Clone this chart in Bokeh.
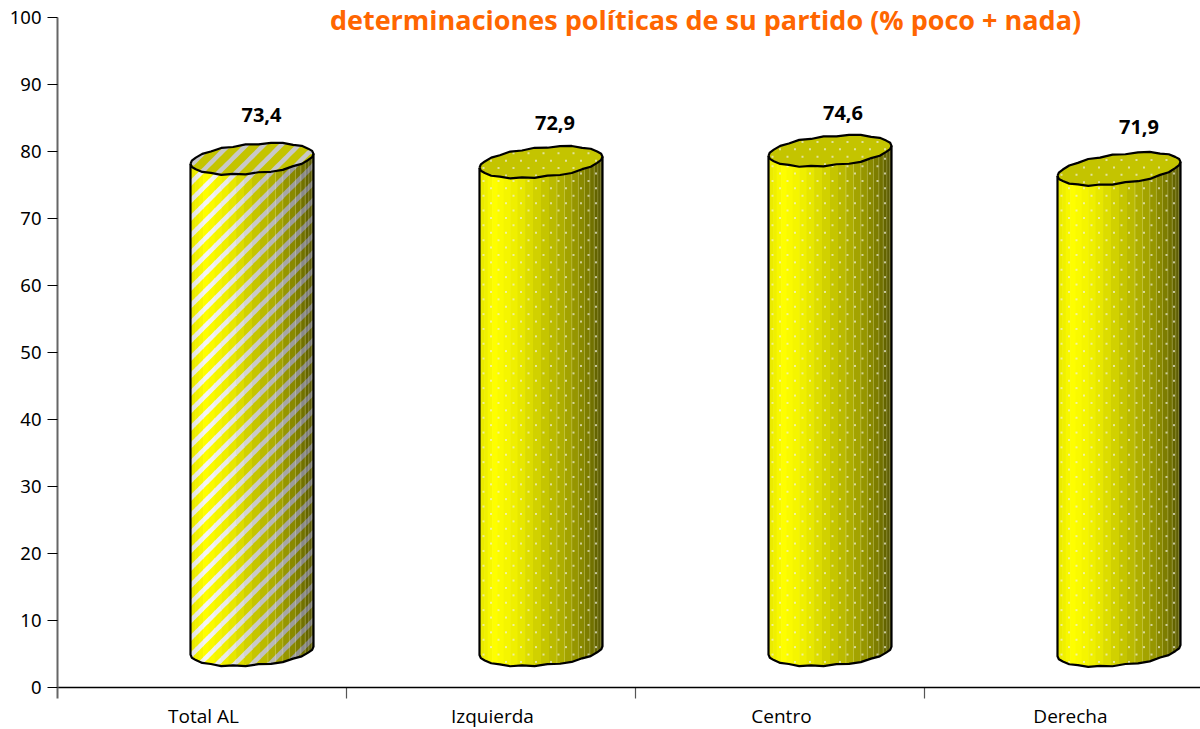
import numpy as np
from bokeh.embed import file_html
from bokeh.resources import INLINE
from bokeh.plotting import figure
from bokeh.models import FixedTicker, Label, Range1d
from bokeh.core.properties import value

# ---- data
categories = ["Total AL", "Izquierda", "Centro", "Derecha"]
values = [73.4, 72.9, 74.6, 71.9]
value_labels = ["73,4", "72,9", "74,6", "71,9"]
y_ticks = list(range(0, 101, 10))
title_text = "determinaciones políticas de su partido (% poco + nada)"

# ---- styling / layout
PX_X, PX_Y = 289.0, 6.7          # pixels per data unit
DEPTH = 5.5                      # 3-D depth offset of the cylinders, in y units
CYL_SHIFT = 0.673                # cylinder centre inside a category slot
HALF_W, RY = 61.5, 14.7          # pixels
TOP_PAD, BOTTOM_PAD = 17, 42     # pixels of frame above 100 and below 0
TICK_LEN = 11
tilt = [5.0, 5.5, 5.0, 7.0]
label_dx = [9.5, 14, 13, 20]
label_dy = [12.0, 11.3, 11.2, 11.7]
wobble = [0, .6, -.5, .7, -.3, .8, -.6, .4, -.7, .5, .9, -.4, .6, -.8, .3, 0]
shade_pos = [0, .12, .3, .5, .75, .9, 1]
shade_val = [230, 255, 238, 204, 158, 119, 79]
N_STRIPS = 24
STRIPE_PERIOD, STRIPE_W = 17.5, 6.5
DOT_DX, DOT_DY = 15.0, 7.4


def hexc(r, g, b):
    return "#%02x%02x%02x" % (int(r), int(g), int(b))


def arc(cx, cy, tlt, sign):
    """sign=-1 lower arc, sign=+1 upper arc, left to right, y up (pixels)."""
    t = np.linspace(np.pi, 0, len(wobble))
    xs = cx + HALF_W * np.cos(t)
    ys = cy + sign * RY * np.sin(t) + tlt * np.cos(t) + sign * np.array(wobble) * np.sin(t)
    return xs, ys


p = figure(width=1200, height=729, output_backend="svg", toolbar_location=None,
           x_range=Range1d(0, 1143 / PX_X),
           y_range=Range1d(-BOTTOM_PAD / PX_Y, 100 + TOP_PAD / PX_Y),
           min_border_left=57, min_border_right=0, min_border_top=0, min_border_bottom=0)
p.grid.visible = False
p.outline_line_color = None
p.background_fill_color = "white"

wall_xs, wall_ys, wall_c = [], [], []
stripe_xs, stripe_ys, stripe_c = [], [], []
dot_x, dot_y = [], []
seam_xs, seam_ys = [], []
top_xs, top_ys = [], []
top_stripe_xs, top_stripe_ys = [], []
line_xs, line_ys = [], []

for i, v in enumerate(values):
    cx = (i + CYL_SHIFT) * PX_X
    cy_top = (v + DEPTH) * PX_Y
    cy_bot = DEPTH * PX_Y
    tl = tilt[i]
    bx, by = arc(cx, cy_bot, tl * .8, -1)
    tx_lo, ty_lo = arc(cx, cy_top, tl, -1)
    tx_up, ty_up = arc(cx, cy_top, tl, 1)
    bottom = lambda x: np.interp(x, bx, by)
    wall_top = lambda x: np.interp(x, tx_lo, ty_lo) + 2
    edges = cx - HALF_W * np.cos(np.linspace(0, np.pi, N_STRIPS + 1))
    for k in range(N_STRIPS):
        x0, x1 = edges[k], edges[k + 1]
        xs_k = np.array([x0, x1 + .6 if k < N_STRIPS - 1 else x1])
        s = np.interp(((x0 + x1) / 2 - edges[0]) / (2 * HALF_W), shade_pos, shade_val)
        wall_xs.append(list(xs_k) + list(xs_k[::-1]))
        wall_ys.append(list(bottom(xs_k)) + list(wall_top(xs_k[::-1])))
        wall_c.append(hexc(s, s, 0))
        if i == 0:
            g = 112 + (s - 79) * 133 / 176
            for c in np.arange(-cx - 400, 1000, STRIPE_PERIOD):
                sx = np.linspace(xs_k[0], xs_k[1], 3)
                lo = np.clip(sx + c, bottom(sx), wall_top(sx))
                hi = np.clip(sx + c + STRIPE_W, bottom(sx), wall_top(sx))
                if np.any(hi - lo > 1e-6):
                    stripe_xs.append(list(sx) + list(sx[::-1]))
                    stripe_ys.append(list(lo) + list(hi[::-1]))
                    stripe_c.append(hexc(g, g, g))
        rel = (x1 - edges[0]) / (2 * HALF_W)
        if rel > .6 and k < N_STRIPS - 1:
            seam_xs.append([x1, x1])
            seam_ys.append([float(bottom(np.array(x1))), float(wall_top(np.array(x1)))])
    if i > 0:
        rows = np.arange(cy_bot - RY - 4, cy_top + RY, DOT_DY)
        for r, ry in enumerate(rows):
            cols = np.arange(cx - HALF_W + 4 + (r % 2) * DOT_DX / 2, cx + HALF_W - 1, DOT_DX)
            keep = (ry > bottom(cols) + 1.5) & (ry < wall_top(cols) - 2)
            dot_x.extend(cols[keep]); dot_y.extend([ry] * int(keep.sum()))
    top_xs.append(list(tx_lo) + list(tx_up[::-1]))
    top_ys.append(list(ty_lo) + list(ty_up[::-1]))
    ex = np.linspace(cx - HALF_W, cx + HALF_W, 40)
    lo_e = np.interp(ex, tx_lo, ty_lo)
    up_e = np.interp(ex, tx_up, ty_up)
    if i == 0:
        for c in np.arange(-cx - 400, 1000, STRIPE_PERIOD):
            lo = np.clip(ex + c, lo_e, up_e)
            hi = np.clip(ex + c + STRIPE_W, lo_e, up_e)
            if np.any(hi - lo > 1e-6):
                top_stripe_xs.append(list(ex) + list(ex[::-1]))
                top_stripe_ys.append(list(lo) + list(hi[::-1]))
    else:
        rows = np.arange(cy_top - RY - 6, cy_top + RY + 6, DOT_DY)
        for r, ry in enumerate(rows):
            cols = np.arange(cx - HALF_W + 4 + (r % 2) * DOT_DX / 2, cx + HALF_W - 1, DOT_DX)
            keep = (ry > np.interp(cols, tx_lo, ty_lo) + 2) & (ry < np.interp(cols, tx_up, ty_up) - 2)
            dot_x.extend(cols[keep]); dot_y.extend([ry] * int(keep.sum()))
    line_xs.append([bx[0]] + list(bx) + [bx[-1]])
    line_ys.append([float(ty_lo[0])] + list(by) + [float(ty_lo[-1])])
    line_xs.append(list(tx_lo) + list(tx_up[::-1]))
    line_ys.append(list(ty_lo) + list(ty_up[::-1]))


def dx(rows):
    return [list(np.asarray(r) / PX_X) for r in rows]


def dy(rows):
    return [list(np.asarray(r) / PX_Y) for r in rows]


p.patches(dx(wall_xs), dy(wall_ys), fill_color=wall_c, line_color=None)
if stripe_xs:
    p.patches(dx(stripe_xs), dy(stripe_ys), fill_color=stripe_c, line_color=None)
p.multi_line(dx(seam_xs), dy(seam_ys), line_color="#ffffc0", line_alpha=.28, line_width=1)
p.patches(dx(top_xs), dy(top_ys), fill_color="#c4c400", line_color=None)
p.patches(dx(top_stripe_xs), dy(top_stripe_ys), fill_color="#c8c8c8", line_color=None)
p.scatter(np.array(dot_x) / PX_X, np.array(dot_y) / PX_Y, marker="square", size=2,
          fill_color="#f0f0e0", fill_alpha=.7, line_color=None)
p.multi_line(dx(line_xs), dy(line_ys), line_color="black", line_width=2.2, line_join="round")

# value labels
p.text([i + CYL_SHIFT + label_dx[i] / PX_X for i in range(4)],
       [values[i] + label_dy[i] for i in range(4)], text=value_labels,
       text_font=value("Open Sans"), text_font_style="bold", text_font_size="20px",
       text_align="center", text_baseline="middle", text_color="black")

# title
p.add_layout(Label(x=(705 - 57) / PX_X, y=(687 - 19) / PX_Y, text=title_text,
                   text_font="Open Sans", text_font_style="bold", text_font_size="27px",
                   text_color="#ff6600", text_align="center", text_baseline="middle"))

# y axis (its line runs on below 0, as the first category tick)
ya = p.yaxis[0]
ya.ticker = FixedTicker(ticks=y_ticks)
ya.bounds = (-TICK_LEN / PX_Y, 100)
ya.axis_line_color = "#666666"; ya.axis_line_width = 2
ya.major_tick_line_color = "black"; ya.major_tick_out = 10; ya.major_tick_in = 0
ya.minor_tick_line_color = None
ya.major_label_text_font = "Noto Sans"; ya.major_label_text_font_size = "18.5px"
ya.major_label_text_color = "black"; ya.major_label_standoff = 6

# x axis line at 0; slot-border ticks and the category names below it
xa = p.xaxis[0]
xa.fixed_location = 0
xa.ticker = FixedTicker(ticks=[])
xa.axis_line_color = "black"; xa.axis_line_width = 1.5
xa.major_tick_line_color = None; xa.minor_tick_line_color = None
xa.major_tick_out = 0; xa.major_tick_in = 0; xa.minor_tick_out = 0; xa.minor_tick_in = 0
xa.major_label_text_font_size = "0px"; xa.major_label_standoff = 0

p.segment([1, 2, 3], [0] * 3, [1, 2, 3], [-TICK_LEN / PX_Y] * 3, line_color="#555555", line_width=1.2)
p.text([i + .505 for i in range(4)], [-28.5 / PX_Y] * 4, text=categories,
       text_font=value("Open Sans"), text_font_size="19px",
       text_align="center", text_baseline="middle", text_color="black")

open("out.html", "w").write(file_html(p, INLINE))
